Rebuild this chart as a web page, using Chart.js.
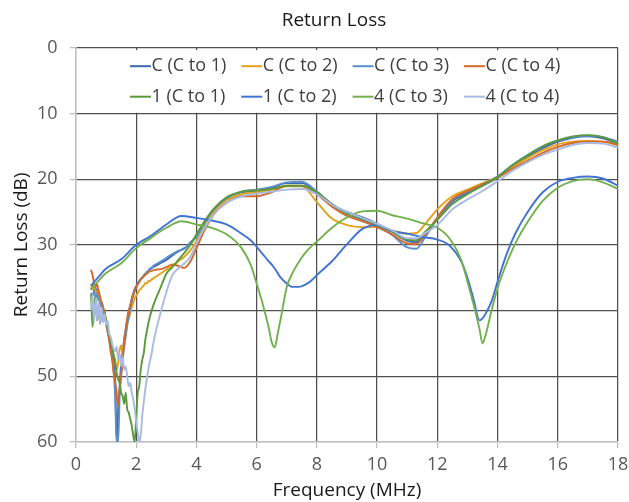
<!DOCTYPE html>
<html><head><meta charset="utf-8">
<script src="https://cdn.jsdelivr.net/npm/chart.js@4.4.1/dist/chart.umd.min.js"></script>
<style>html,body{margin:0;padding:0;background:#fff;}canvas{display:block;}</style>
</head><body>
<canvas id="c" width="629" height="502"></canvas>
<script>
// Frequency samples (MHz)
const freqMain = [0.5,0.55,0.6,0.65,0.7,0.75,0.8,0.85,0.9,0.95,1.0,1.05,1.1,1.15,1.2,1.25,1.3,1.35,1.4,1.45,1.5,1.55,1.6,1.65,1.7,1.75,1.8,1.85,1.9,1.95,2.0,2.05,2.1,2.15,2.2,2.25,2.3,2.35,2.4,2.45,2.5,
  2.6,2.8,3.0,3.2,3.4,3.6,3.8,4.0,4.3,4.6,5.0,5.5,6.0,6.5,7.0,7.5,8.0,8.5,9.0,9.5,10.0,10.5,11.0,11.3,11.6,12.0,12.5,13.0,13.5,14.0,14.5,15.0,15.5,16.0,16.5,17.0,17.5,18.0];
const freqOut = [0.5,0.8,1.0,1.5,2.0,2.5,3.0,3.5,4.0,4.5,5.0,5.5,5.8,6.0,6.2,6.4,6.5,6.6,6.7,6.8,7.0,7.2,7.4,7.6,7.8,8.0,8.5,9.0,9.5,10.0,10.5,11.0,11.5,12.0,12.4,12.8,13.0,13.2,13.4,13.5,13.6,13.8,14.0,14.3,14.6,15.0,15.5,16.0,16.5,17.0,17.5,18.0];

// Return loss values (dB)
const rlC_C1 = [36.8,36.2,37.0,36.6,37.4,37.0,38.2,38.8,39.5,40.6,41.5,42.6,43.8,45.0,46.3,47.8,50.5,60.0,55.0,51.5,48.0,46.5,44.3,43.0,41.6,40.4,39.4,38.2,37.5,36.7,36.3,35.9,35.5,35.3,35.0,34.8,34.4,34.3,34.0,33.8,33.6,
  33.3,32.8,32.3,31.6,31.0,30.5,29.8,28.6,26.3,24.4,22.8,22.0,21.8,21.3,20.6,20.6,22.0,23.9,25.0,25.8,26.8,28.0,29.4,29.6,28.3,26.0,23.4,22.1,21.0,19.8,18.0,16.6,15.3,14.3,13.7,13.5,13.8,14.6];
const rlC_C2 = [36.0,36.8,36.3,37.2,37.0,37.8,38.4,39.2,39.8,40.8,41.8,42.8,43.6,44.8,45.8,46.8,47.5,49.0,48.0,46.0,45.3,46.6,44.6,43.6,42.2,41.2,40.5,39.5,38.9,38.2,37.7,37.4,36.9,36.7,36.4,36.2,35.8,35.9,35.5,35.6,35.3,
  35.0,34.4,33.8,33.2,32.5,31.8,30.8,29.4,26.8,24.8,23.2,22.3,22.0,21.6,21.1,21.1,23.5,26.0,27.0,27.3,27.3,27.8,28.3,28.2,26.8,24.6,22.6,21.6,20.6,19.6,18.1,16.8,15.6,14.7,14.3,14.2,14.3,14.8];
const rlC_C3 = [37.3,37.8,37.0,38.0,37.6,38.5,38.9,39.6,40.2,41.0,42.0,43.2,44.2,45.6,47.0,49.0,53.0,60.0,60.0,53.0,49.5,47.5,45.6,44.0,42.2,41.0,39.8,38.7,37.8,37.0,36.5,36.0,35.6,35.2,35.0,34.6,34.5,34.1,34.0,33.6,33.5,
  33.1,32.6,32.0,31.4,30.9,30.6,29.6,28.8,26.4,24.5,22.9,21.9,21.6,21.2,20.5,20.4,21.9,23.9,25.3,26.2,27.2,28.5,30.4,30.6,28.8,26.0,23.2,21.9,20.8,19.6,17.8,16.3,15.0,14.1,13.6,13.4,13.6,14.3];
const rlC_C4 = [33.8,34.6,35.8,36.4,36.0,37.2,38.0,38.7,39.6,40.2,41.6,43.2,44.5,46.2,47.5,49.5,50.8,52.6,54.5,52.0,50.0,47.2,44.8,42.8,41.2,40.0,39.2,38.4,37.5,37.0,36.4,36.0,35.7,35.2,35.0,34.8,34.6,34.4,34.2,34.0,34.0,
  33.8,33.7,33.4,33.0,33.2,33.5,32.5,30.5,27.5,25.2,23.6,22.6,22.6,22.0,21.0,21.0,22.3,24.2,25.6,26.4,27.3,28.4,29.8,29.9,28.4,25.8,23.0,21.8,20.8,19.8,18.4,17.2,16.0,15.1,14.5,14.3,14.3,14.8];
const rl1_C1 = [37.5,42.5,39.0,38.0,41.5,39.5,42.0,40.5,41.0,40.2,42.0,42.8,43.6,44.5,45.5,46.8,48.0,49.5,50.5,51.0,52.5,53.0,54.2,52.5,55.0,55.5,56.5,57.5,59.0,60.0,56.0,52.5,51.5,49.0,47.5,46.5,44.5,43.2,42.0,41.0,40.2,
  38.8,36.6,34.4,33.4,32.3,31.2,30.0,28.4,26.2,24.4,22.8,21.9,21.7,21.5,21.0,21.0,22.0,23.8,25.2,26.0,27.0,28.0,29.2,29.3,28.0,26.2,23.8,22.3,21.0,19.7,17.9,16.4,15.0,14.1,13.5,13.3,13.6,14.6];
const rl1_C2 = [36.2,34.6,33.6,32.2,30.0,28.6,26.9,25.6,25.9,26.3,26.9,28.3,29.3,30.3,31.4,32.5,33.0,33.6,34.3,35.0,35.9,36.4,36.4,36.1,35.5,34.6,32.5,29.9,27.6,27.0,27.9,28.3,28.8,29.2,30.1,32.6,35.0,38.2,41.5,41.2,40.5,38.6,35.6,31.4,28.2,25.0,22.0,20.4,19.8,19.6,19.9,21.0];
const rl4_C3 = [36.8,35.2,34.3,32.8,30.5,28.9,27.4,26.4,26.9,27.4,28.4,30.5,33.0,35.9,39.0,42.6,44.8,45.6,43.5,41.2,36.4,34.2,32.6,31.3,30.3,29.5,27.4,25.8,24.9,24.8,25.5,26.0,26.7,27.4,29.0,32.4,35.6,39.0,42.8,45.0,43.8,40.0,36.6,32.8,29.7,26.5,23.3,21.3,20.3,20.0,20.5,21.5];
const rl4_C4 = [40.0,37.5,41.8,38.2,41.5,38.6,41.9,39.5,41.8,40.5,42.2,41.5,43.5,44.0,45.0,45.8,46.2,45.5,47.5,46.5,48.5,47.0,49.0,48.5,50.0,51.5,51.0,52.5,53.5,55.0,57.0,58.5,60.0,59.0,56.0,54.0,52.0,50.5,49.0,47.8,46.8,
  44.2,40.5,37.2,34.6,33.6,32.8,31.8,29.8,27.2,25.2,23.6,22.6,22.2,21.9,21.6,21.5,22.3,23.9,25.0,25.9,26.8,27.8,29.0,29.0,28.2,27.0,24.6,23.1,21.8,20.3,18.7,17.4,16.3,15.5,14.8,14.5,14.6,15.2];

const seriesLabels = ['C (C to 1)','C (C to 2)','C (C to 3)','C (C to 4)','1 (C to 1)','1 (C to 2)','4 (C to 3)','4 (C to 4)'];
const seriesColors = ['#3E68B0','#E3A21A','#5A8FCB','#D4692B','#5A9A3A','#4173D3','#72B14D','#A9BAE3'];
const seriesFreq = [freqMain,freqMain,freqMain,freqMain,freqMain,freqOut,freqOut,freqMain];
const seriesValues = [rlC_C1,rlC_C2,rlC_C3,rlC_C4,rl1_C1,rl1_C2,rl4_C3,rl4_C4];

const xMin = 0, xMax = 18, xStep = 2;
const yMin = 0, yMax = 60, yStep = 10;
const chartTitle = 'Return Loss';
const xTitle = 'Frequency (MHz)';
const yTitle = 'Return Loss (dB)';

const FONT = "'Open Sans', sans-serif";
Chart.defaults.font.family = FONT;

const datasets = seriesLabels.map((lab, i) => ({
  label: lab,
  data: seriesFreq[i].map((f, k) => ({x: f, y: seriesValues[i][k]})),
  borderColor: seriesColors[i],
  backgroundColor: seriesColors[i],
  borderWidth: 1.9,
  pointRadius: 0,
  pointHoverRadius: 0,
  fill: false,
  cubicInterpolationMode: 'monotone',
  order: seriesLabels.length - 1 - i
}));

const titlePlugin = {
  id: 'topTitle',
  afterDraw(chart) {
    const ctx = chart.ctx;
    ctx.save();
    ctx.font = "500 19px " + FONT;
    ctx.fillStyle = '#1a1a1a';
    ctx.textAlign = 'center';
    ctx.textBaseline = 'middle';
    ctx.fillText(chartTitle, chart.width / 2 + 19.5, 21);
    ctx.restore();
  }
};

const insideLegend = {
  id: 'insideLegend',
  afterDatasetsDraw(chart) {
    const a = chart.chartArea;
    const ctx = chart.ctx;
    ctx.save();
    ctx.fillStyle = '#ffffff';
    ctx.fillRect(a.left + 48, a.top + 2.5, 452, 62.5);
    ctx.font = "18px " + FONT;
    ctx.textBaseline = 'middle';
    ctx.textAlign = 'left';
    chart.data.datasets.forEach((d, i) => {
      const col = i % 4, row = Math.floor(i / 4);
      const x = a.left + 54 + col * 111.3;
      const y = a.top + 18.5 + row * 30.5;
      ctx.strokeStyle = d.borderColor;
      ctx.lineWidth = 2;
      ctx.beginPath();
      ctx.moveTo(x, y);
      ctx.lineTo(x + 21, y);
      ctx.stroke();
      ctx.fillStyle = '#404040';
      ctx.fillText(d.label, x + 21.5, y);
    });
    ctx.restore();
  }
};

new Chart(document.getElementById('c'), {
  type: 'line',
  data: { datasets },
  options: {
    responsive: false,
    animation: false,
    devicePixelRatio: 1,
    layout: { padding: { top: 47.7, right: 11, bottom: 0, left: 0 } },
    plugins: {
      legend: { display: false },
      title: { display: false },
      tooltip: { enabled: false }
    },
    scales: {
      x: {
        type: 'linear',
        min: xMin, max: xMax,
        afterFit: s => { s.height = 60; s.paddingRight = 0; s.paddingLeft = 0; },
        ticks: { stepSize: xStep, color: '#595959', font: { size: 18 }, padding: 6, maxRotation: 0 },
        grid: {
          color: c => (c.tick && c.tick.value === xMin) ? '#bfbfbf' : '#505050',
          lineWidth: 1.25,
          tickLength: 6,
          tickColor: '#bfbfbf'
        },
        border: { display: true, color: '#bfbfbf', width: 1.5 },
        title: { display: true, text: xTitle, color: '#1a1a1a', font: { size: 19, weight: '500' }, padding: { top: 0, bottom: 0 } }
      },
      y: {
        type: 'linear',
        reverse: true,
        min: yMin, max: yMax,
        afterFit: s => { s.width = 76; s.paddingTop = 0; s.paddingBottom = 0; },
        ticks: { stepSize: yStep, color: '#595959', font: { size: 18 }, padding: 12.5 },
        grid: {
          color: c => (c.tick && c.tick.value === yMax) ? '#bfbfbf' : '#505050',
          lineWidth: 1.25,
          tickLength: 6,
          tickColor: '#bfbfbf'
        },
        border: { display: true, color: '#bfbfbf', width: 1.5 },
        title: { display: true, text: yTitle, color: '#1a1a1a', font: { size: 19, weight: '500' }, padding: { top: 10.5, bottom: 0 } }
      }
    }
  },
  plugins: [insideLegend, titlePlugin]
});
</script>
</body></html>
